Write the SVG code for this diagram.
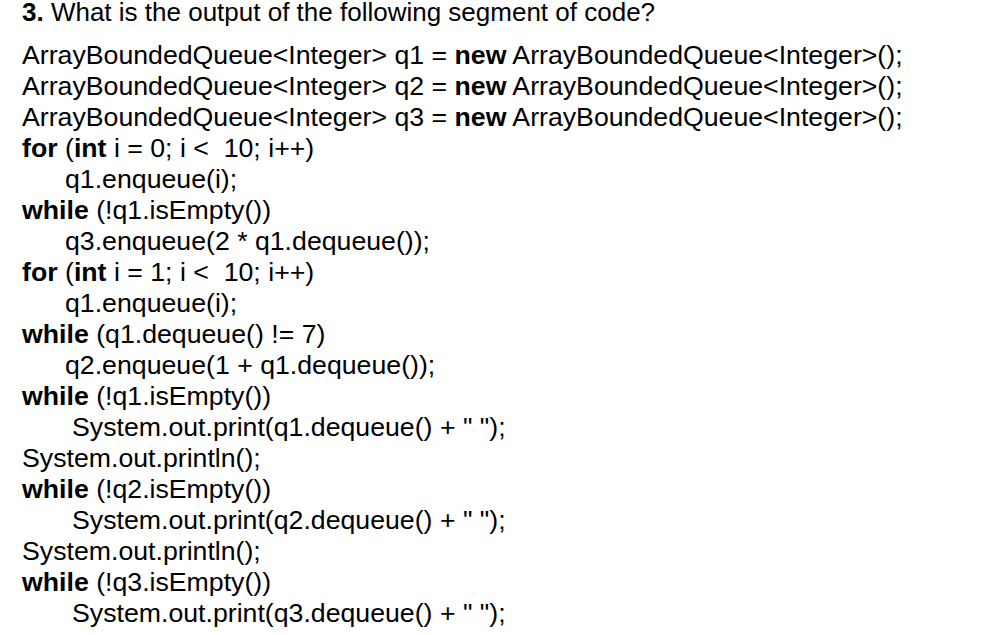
<svg xmlns="http://www.w3.org/2000/svg" width="1004" height="635" viewBox="0 0 1004 635">
<style>
text{font-family:"Liberation Sans",Arial,sans-serif;font-size:26.7px;fill:#000}
.t{font-size:26px}
.b{font-weight:bold}
</style>
<rect width="1004" height="635" fill="#fff"/>
<text class="t" x="22" y="21"><tspan class="b">3.</tspan> What is the output of the following segment of code?</text>
<text x="22" y="64">ArrayBoundedQueue&lt;Integer&gt; q1 = <tspan class="b">new</tspan> ArrayBoundedQueue&lt;Integer&gt;();</text>
<text x="22" y="95">ArrayBoundedQueue&lt;Integer&gt; q2 = <tspan class="b">new</tspan> ArrayBoundedQueue&lt;Integer&gt;();</text>
<text x="22" y="126">ArrayBoundedQueue&lt;Integer&gt; q3 = <tspan class="b">new</tspan> ArrayBoundedQueue&lt;Integer&gt;();</text>
<text x="22" y="157"><tspan class="b">for</tspan> (<tspan class="b">int</tspan> i = 0; i &lt;&#160; 10; i++)</text>
<text x="65" y="188">q1.enqueue(i);</text>
<text x="22" y="219"><tspan class="b">while</tspan> (!q1.isEmpty())</text>
<text x="65" y="250">q3.enqueue(2 * q1.dequeue());</text>
<text x="22" y="281"><tspan class="b">for</tspan> (<tspan class="b">int</tspan> i = 1; i &lt;&#160; 10; i++)</text>
<text x="65" y="312">q1.enqueue(i);</text>
<text x="22" y="343"><tspan class="b">while</tspan> (q1.dequeue() != 7)</text>
<text x="65" y="374">q2.enqueue(1 + q1.dequeue());</text>
<text x="22" y="405"><tspan class="b">while</tspan> (!q1.isEmpty())</text>
<text x="72" y="436">System.out.print(q1.dequeue() + " ");</text>
<text x="22" y="467">System.out.println();</text>
<text x="22" y="498"><tspan class="b">while</tspan> (!q2.isEmpty())</text>
<text x="72" y="529">System.out.print(q2.dequeue() + " ");</text>
<text x="22" y="560">System.out.println();</text>
<text x="22" y="591"><tspan class="b">while</tspan> (!q3.isEmpty())</text>
<text x="72" y="622">System.out.print(q3.dequeue() + " ");</text>
</svg>
